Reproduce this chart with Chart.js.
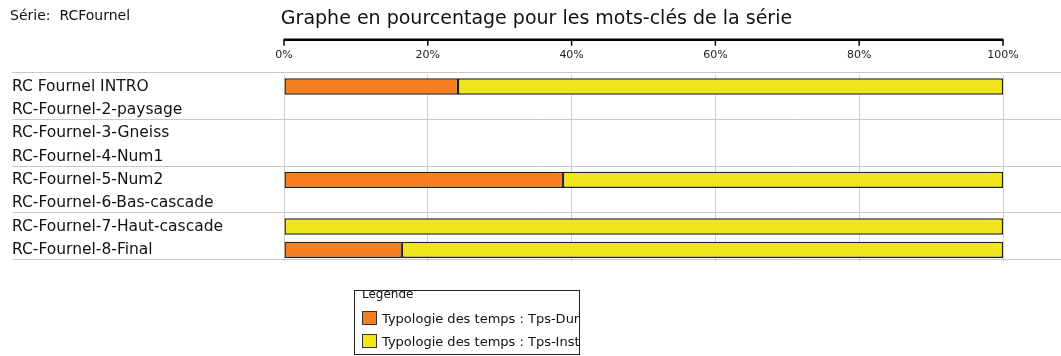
<!DOCTYPE html>
<html lang="fr">
<head>
<meta charset="utf-8">
<title>Graphe en pourcentage</title>
<script src="https://cdn.jsdelivr.net/npm/chart.js@4/dist/chart.umd.min.js"></script>
<style>
    body { margin: 0; background: #fff; font-family: "DejaVu Sans", sans-serif; }
    #wrap { position: relative; width: 1061px; height: 356px; }
    #serie { position: absolute; left: 10px; top: 7px; font-size: 14px; color: #111; white-space: pre; }
    #legende {
        position: absolute; left: 354px; top: 290px; width: 224px; height: 63px;
        border: 1px solid #222; overflow: hidden; font-size: 13px; color: #111;
    }
    #legende .titre { position: absolute; left: 7px; top: -4px; font-size: 12px; }
    #legende .item { position: absolute; left: 7px; white-space: nowrap; }
    #legende .box { display: inline-block; width: 13px; height: 12px; border: 1px solid #333; vertical-align: -2px; margin-right: 5px; }
</style>
</head>
<body>
<div id="wrap">
    <canvas id="pct-graph"></canvas>
    <div id="serie">Série:  RCFournel</div>
    <div id="legende"><span class="titre">Légende</span></div>
</div>
<script>
const categories = [
    "RC Fournel INTRO",
    "RC-Fournel-2-paysage",
    "RC-Fournel-3-Gneiss",
    "RC-Fournel-4-Num1",
    "RC-Fournel-5-Num2",
    "RC-Fournel-6-Bas-cascade",
    "RC-Fournel-7-Haut-cascade",
    "RC-Fournel-8-Final"
]

const seriesLabels = [
    "Typologie des temps : Tps-Dur",
    "Typologie des temps : Tps-Inst"
]

// pourcentages par mot-clé (null = pas de donnée)
const tpsDur = [24.2, null, null, null, 38.8, null, null, 16.4]
const tpsInst = [75.8, null, null, null, 61.2, null, 100, 83.6]

const xTicks = [0, 20, 40, 60, 80, 100]

const colors = ["#F47F20", "#F1E61B"]

// lignes de séparation toutes les deux lignes, sur toute la largeur
const separators = {
    id: "separators",
    beforeDatasetsDraw(chart) {
        const y = chart.scales.y
        const ctx = chart.ctx
        const step = y.getPixelForValue(1) - y.getPixelForValue(0)
        ctx.save()
        ctx.strokeStyle = "#c8c8c8"
        ctx.lineWidth = 1
        for (let i = 0; i <= categories.length; i += 2) {
            const py = Math.round(y.getPixelForValue(i) - step / 2 - 2.4) + 0.5
            ctx.beginPath()
            ctx.moveTo(12, py)
            ctx.lineTo(chart.width, py)
            ctx.stroke()
        }
        ctx.restore()
    }
}

// trait noir épais au-dessus des graduations
const topAxis = {
    id: "topAxis",
    afterDraw(chart) {
        const x = chart.scales.x
        const ctx = chart.ctx
        const y0 = chart.chartArea.top - 35
        ctx.save()
        ctx.strokeStyle = "#000"
        ctx.lineWidth = 2.5
        ctx.beginPath()
        ctx.moveTo(x.getPixelForValue(0) - 0.5, y0)
        ctx.lineTo(x.getPixelForValue(100) + 0.5, y0)
        ctx.stroke()
        ctx.lineWidth = 1.5
        xTicks.forEach(v => {
            const px = x.getPixelForValue(v)
            ctx.beginPath()
            ctx.moveTo(px, y0)
            ctx.lineTo(px, y0 + 6)
            ctx.stroke()
        })
        ctx.restore()
    }
}

const graph = new Chart(document.getElementById("pct-graph"), {
    type: "bar",
    data: {
        labels: categories,
        datasets: [tpsDur, tpsInst].map((d, i) => ({
            label: seriesLabels[i],
            data: d,
            backgroundColor: colors[i],
            borderColor: "#222",
            borderWidth: 1.4,
            borderSkipped: false,
            categoryPercentage: 1,
            barPercentage: 0.7
        }))
    },
    options: {
        indexAxis: "y",
        responsive: true,
        maintainAspectRatio: false,
        animation: false,
        layout: { padding: { left: 12, right: 0, top: 0, bottom: 94.5 } },
        scales: {
            x: {
                position: "top",
                stacked: true,
                min: 0,
                max: 100,
                afterBuildTicks: s => { s.ticks = xTicks.map(v => ({ value: v })) },
                afterFit: s => { s.height = 40 },
                ticks: {
                    padding: 13,
                    color: "#222",
                    font: { family: "DejaVu Sans", size: 11 },
                    callback: v => v + "%"
                },
                grid: { color: "#cfcfcf", drawTicks: false },
                border: { display: false }
            },
            y: {
                stacked: true,
                afterFit: s => { s.width = 272 },
                ticks: {
                    crossAlign: "far",
                    color: "#111",
                    font: { family: "DejaVu Sans", size: 15.5 }
                },
                grid: { display: false },
                border: { display: false }
            },
            // marge vide à droite du graphe (place pour le libellé 100%)
            marge: {
                type: "category",
                position: "right",
                afterFit: s => { s.width = 58 },
                ticks: { display: false },
                grid: { display: false },
                border: { display: false }
            }
        },
        plugins: {
            title: {
                display: true,
                text: "Graphe en pourcentage pour les mots-clés de la série",
                color: "#111",
                font: { family: "DejaVu Sans", size: 19, weight: "normal" },
                padding: { top: 8, bottom: 4 }
            },
            legend: { display: false },
            tooltip: { enabled: false }
        }
    },
    plugins: [separators, topAxis]
})

// légende construite à partir des séries du graphe
const legende = document.getElementById("legende")
graph.data.datasets.forEach((ds, i) => {
    const item = document.createElement("div")
    item.className = "item"
    item.style.top = (20 + i * 23) + "px"
    item.innerHTML = '<span class="box" style="background:' + ds.backgroundColor + '"></span>' + ds.label
    legende.appendChild(item)
})
</script>
</body>
</html>
